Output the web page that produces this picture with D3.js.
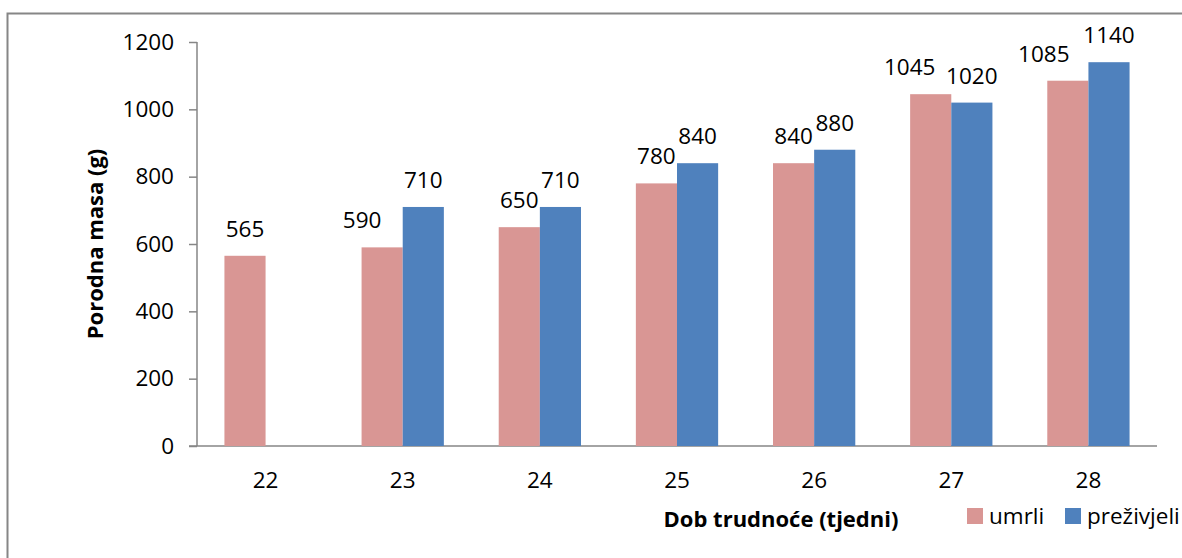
<!DOCTYPE html>
<html>
<head>
<meta charset="utf-8">
<script src="https://cdn.jsdelivr.net/npm/d3@7"></script>
<style>
  body { margin: 0; background: #fff; }
  svg { display: block; font-family: "Open Sans", sans-serif; }
</style>
</head>
<body>
<script>
let width = 1182;
let height = 558;

// data
let weeks = ["22", "23", "24", "25", "26", "27", "28"];
let umrli = [565, 590, 650, 780, 840, 1045, 1085];
let prezivjeli = [null, 710, 710, 840, 880, 1020, 1140];
let yTicks = [0, 200, 400, 600, 800, 1000, 1200];
let seriesNames = ["umrli", "preživjeli"];
let seriesColors = ["#d99694", "#4f81bd"];

// some labels were nudged left in the original so they don't collide
let labelShift = [[0, -20, 0, 0, 0, -21, -24], [0, 0, 0, 0, 0, 0, 0]];

let svg = d3.select("body").append("svg")
            .attr("width", width)
            .attr("height", height);

// outer chart frame (runs off the right/bottom edge)
svg.append("rect")
   .attr("x", 7.5).attr("y", 13.5)
   .attr("width", 1200).attr("height", 600)
   .attr("fill", "none")
   .attr("stroke", "#868686")
   .attr("stroke-width", 2);

let x = d3.scaleBand()
          .domain(weeks)
          .range([197, 1157]);

let y = d3.scaleLinear()
          .domain([0, 1200])
          .range([446, 42]);

let barW = x.bandwidth() * 0.3;

// y axis
let yAxis = svg.append("g")
               .attr("transform", "translate(197,0)")
               .call(d3.axisLeft(y).tickValues(yTicks).tickFormat(d3.format("d"))
                       .tickSize(8).tickPadding(15));
yAxis.selectAll("line, path").attr("stroke", "#868686").attr("stroke-width", 1.5);
yAxis.select(".domain").attr("d", "M0,42V446");
yAxis.selectAll("text")
     .attr("font-size", 22.5)
     .attr("fill", "#000")
     .attr("font-family", "'Open Sans', sans-serif");

// x axis
let xAxis = svg.append("g")
               .attr("transform", "translate(0,446)")
               .call(d3.axisBottom(x).tickSize(0).tickPadding(26));
xAxis.select(".domain").attr("d", "M189,0H1157").attr("stroke", "#868686").attr("stroke-width", 1.5);
xAxis.selectAll("text")
     .attr("font-size", 22.5)
     .attr("fill", "#000")
     .attr("font-family", "'Open Sans', sans-serif");

function drawSeries(values, idx) {
  let offset = idx == 0 ? -barW : 0;
  let pts = weeks.map((w, i) => ({week: w, value: values[i], shift: labelShift[idx][i]}))
                 .filter(d => d.value != null);

  svg.append("g")
     .selectAll("rect")
     .data(pts)
     .enter().append("rect")
     .attr("x", d => x(d.week) + x.bandwidth() / 2 + offset)
     .attr("y", d => y(d.value))
     .attr("width", barW)
     .attr("height", d => y(0) - y(d.value))
     .attr("fill", seriesColors[idx]);

  svg.append("g")
     .selectAll("text")
     .data(pts)
     .enter().append("text")
     .attr("x", d => x(d.week) + x.bandwidth() / 2 + offset + barW / 2 + d.shift)
     .attr("y", d => y(d.value) - 19)
     .attr("text-anchor", "middle")
     .attr("font-size", 22.5)
     .text(d => d.value);
}

drawSeries(umrli, 0);
drawSeries(prezivjeli, 1);

// axis titles
svg.append("text")
   .attr("transform", "translate(103,244) rotate(-90)")
   .attr("text-anchor", "middle")
   .attr("font-size", 22)
   .attr("font-weight", "bold")
   .text("Porodna masa (g)");

svg.append("text")
   .attr("x", 781).attr("y", 527)
   .attr("text-anchor", "middle")
   .attr("font-size", 22)
   .attr("font-weight", "bold")
   .text("Dob trudnoće (tjedni)");

// legend
let legendX = [967, 1065];
let legend = svg.append("g");
seriesNames.forEach(function(name, i) {
  legend.append("rect")
        .attr("x", legendX[i]).attr("y", 508)
        .attr("width", 16).attr("height", 16)
        .attr("fill", seriesColors[i]);
  legend.append("text")
        .attr("x", legendX[i] + 22).attr("y", 524)
        .attr("font-size", 22.5)
        .text(name);
});
</script>
</body>
</html>
